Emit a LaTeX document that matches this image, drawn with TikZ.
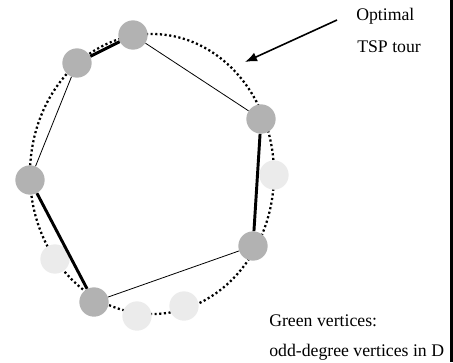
\documentclass[tikz,border=0pt]{standalone}
\usepackage{fontspec}
\setmainfont{Liberation Serif}
\usetikzlibrary{arrows.meta}
\definecolor{tourgray}{gray}{0.70}
\definecolor{oddgray}{gray}{0.92}
\begin{document}
\begin{tikzpicture}[x=0.75pt, y=-0.75pt,
		vert/.style={circle, fill=tourgray, inner sep=0pt, minimum size=22pt},
		oddvert/.style={vert, fill=oddgray},
		tour/.style={line width=1.7pt, dash pattern=on 1.6pt off 1.9pt},
		textlbl/.style={anchor=base west, inner sep=0pt, font=\fontsize{13.3}{15}\selectfont}]
			\useasboundingbox (0,0) rectangle (453,362);
			
			% optimal tour
			\draw[tour] (152,174) ellipse [x radius=91.5pt, y radius=105pt];
			
			\node[vert] (1) at (133,35) {};
			\node[vert] (2) at (261,119) {};
			\node[oddvert] (3) at (274,175) {};
			\node[vert] (4) at (253,246) {};
			\node[oddvert] (5) at (184,306) {};
			\node[oddvert] (6) at (137,316) {};
			\node[vert] (7) at (94,302) {};
			\node[oddvert] (8) at (55,259) {};
			\node[vert] (9) at (30,180) {};
			\node[vert] (10) at (77,63) {};
			
			\foreach \from / \to in {10/1,2/4,7/9}
				\draw[line width=2.2pt] (\from) -- (\to);
			\foreach \from / \to in {1/2,4/7,9/10}
				\draw[line width=0.6pt] (\from) -- (\to);
			
			\coordinate (arrowstart) at (337,20);
			\coordinate (arrowtip) at (245,62);
			\draw[-{Latex[length=9pt,width=7pt]}, line width=1.2pt] (arrowstart) -- (arrowtip);
			
			\node[textlbl] (opt) at (356,20) {Optimal};
			\node[textlbl] (tsp) at (357,52) {TSP tour};
			\node[textlbl] (green) at (269,326) {Green vertices:};
			\node[textlbl] (odd) at (269,356) {odd-degree vertices in D};
			
			\draw[line width=2.2pt] (451.5,0) -- (451.5,362);
		\end{tikzpicture}
\end{document}
